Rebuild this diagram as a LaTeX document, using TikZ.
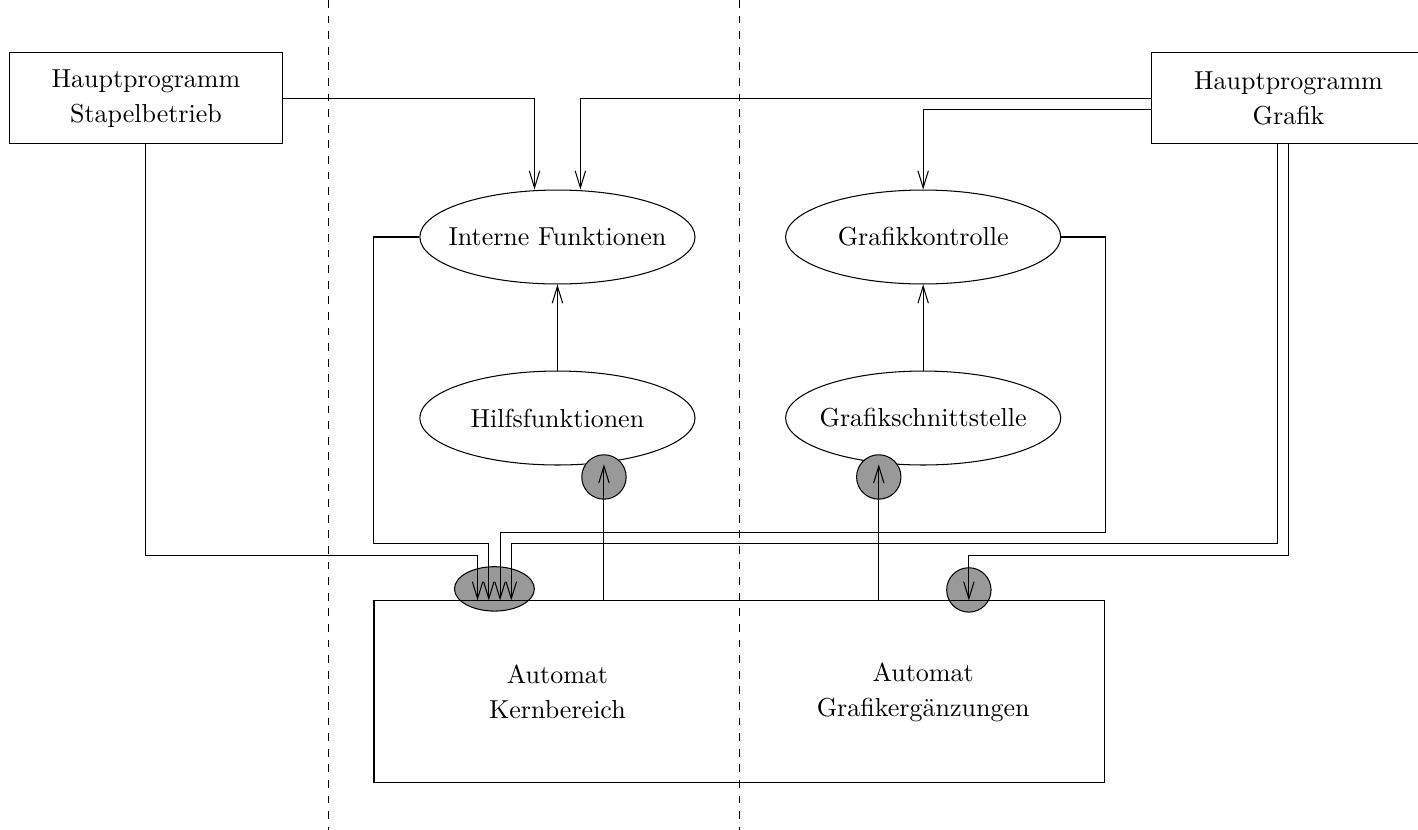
\documentclass[tikz,border=0pt]{standalone}
\usepackage{tikz}
\usetikzlibrary{arrows.meta,positioning,shapes.geometric,backgrounds,calc}
\def\boxwidth{3.70cm}
\def\boxheight{1.23cm}
\def\ovalwidth{3.72cm}
\def\ovalheight{1.27cm}
\def\portsize{0.60cm}
\def\ovalsep{1.21cm}
\def\layersep{1.163cm}
\def\pinsep{0.152cm}
\definecolor{portgray}{HTML}{999999}

\begin{document}
\begin{tikzpicture}[-,draw=black, node distance=\layersep and \ovalsep, myarrow/.style={-{Straight Barb[length=6.5pt,width=4pt]}}]
    \tikzstyle{program}=[rectangle,draw=black,minimum width=\boxwidth,minimum height=\boxheight,align=center,font=\fontsize{10pt}{13.5pt}\selectfont]
    \tikzstyle{module}=[ellipse,draw=black,minimum width=\ovalwidth,minimum height=\ovalheight,inner sep=0pt]
    \tikzstyle{port}=[circle,draw=black,fill=portgray,minimum size=\portsize,inner sep=0pt]
    \tikzstyle{multiport}=[port,ellipse,minimum width=1.08cm,minimum height=\portsize]
    \tikzstyle{annot}=[align=center,font=\fontsize{10pt}{13.5pt}\selectfont]
    \useasboundingbox (0,0) rectangle (19.17,-11.22);

    % Draw the nodes
    \node[program] (stapel) at (1.973,-1.331) {Hauptprogramm\\Stapelbetrieb};
    \node[program] (grafik) at (17.42,-1.331) {Hauptprogramm\\Grafik};

    % the ellipse text goes in a label, else the oval grows round it
    \node[module, label=center:Interne Funktionen] (intern) at (7.536,-3.204) {};
    \node[module, right=of intern, label=center:Grafikkontrolle] (gkontr) {};
    \node[module, below=of intern, label=center:Hilfsfunktionen] (hilfs) {};
    \node[module, below=of gkontr, label=center:Grafikschnittstelle] (gschnitt) {};

    \node[port] (port-1) at ($(hilfs.south)+(0.629,-0.155)$) {};
    \node[port] (port-2) at ($(gschnitt.south)+(-0.60,-0.155)$) {};
    \node[multiport] (port-0) at (6.684,-7.961) {};
    \node[port] (port-3) at (13.098,-7.975) {};

    \node[rectangle,draw=black,minimum width=9.88cm,minimum height=2.46cm] (automat) at (9.996,-9.354) {};
    \node[annot] (kern) at (hilfs |- automat) {Automat\\Kernbereich};
    \node[annot] (ergaenz) at (gschnitt |- automat) {Automat\\Grafikergänzungen};

    % the separating lines
    \foreach \x in {4.447,10.003}
        \draw[dashed] (\x,0) -- (\x,-11.22);

    % Routing levels and pins
    \coordinate (bus-1) at (0,-7.515);
    \coordinate (bus-2) at (0,-7.353);
    \coordinate (bus-3) at (0,-7.205);
    \foreach \i/\dx in {1/-1.5,2/-0.5,3/0.5,4/1.5}
        \coordinate (pin-\i) at ($(port-0.center)+({\dx*\pinsep},0)$);

    % Connect every node
    \draw[myarrow] (stapel.east) -| ([xshift=-0.31cm]intern.north);
    \draw[myarrow] (grafik.west) -| ([xshift=0.31cm]intern.north);
    \draw[myarrow] ([yshift=-0.15cm]grafik.west) -| (gkontr.north);
    \draw[myarrow] (hilfs) -- (intern);
    \draw[myarrow] (gschnitt) -- (gkontr);

    \draw[myarrow] (stapel.south) |- (pin-1 |- bus-1) -- (pin-1 |- automat.north);
    \draw[myarrow] (intern.west) -| (automat.west |- bus-2) -- (pin-2 |- bus-2) -- (pin-2 |- automat.north);
    \draw[myarrow] (gkontr.east) -| (automat.east |- bus-3) -- (pin-3 |- bus-3) -- (pin-3 |- automat.north);
    \draw[myarrow] ([xshift=-0.15cm]grafik.south) |- (pin-4 |- bus-2) -- (pin-4 |- automat.north);
    \draw[myarrow] (grafik.south) |- (port-3 |- bus-1) -- (port-3 |- automat.north);

    \foreach \p in {1,2}
        \draw[myarrow] (port-\p |- automat.north) -- ([yshift=0.17cm]port-\p.center);
\end{tikzpicture}
\end{document}
